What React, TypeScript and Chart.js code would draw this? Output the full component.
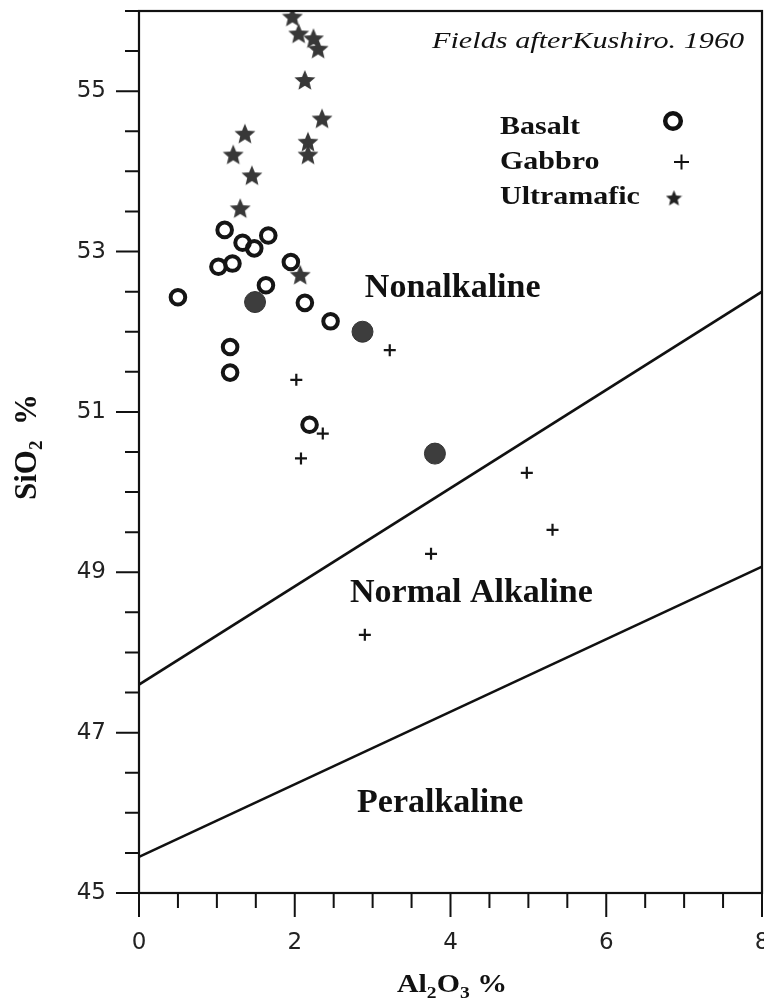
import React, { useEffect, useRef } from "react";
import { Chart, registerables } from "chart.js";

Chart.register(...registerables);

// ---------- data ----------
const basaltX = [0.5, 1.1, 1.02, 1.2, 1.33, 1.48, 1.66, 1.95, 1.63, 2.13, 2.46, 1.17, 1.17, 2.19];
const basaltY = [52.43, 53.27, 52.81, 52.85, 53.11, 53.04, 53.2, 52.87, 52.58, 52.36, 52.13, 51.81, 51.49, 50.84];

const basaltFilledX = [1.49, 2.87, 3.8];
const basaltFilledY = [52.37, 52.0, 50.48];

const gabbroX = [3.22, 2.02, 2.36, 2.08, 3.75, 4.98, 5.31, 2.9];
const gabbroY = [51.77, 51.4, 50.73, 50.42, 49.23, 50.24, 49.53, 48.22];

const ultramaficX = [1.97, 2.05, 2.24, 2.3, 2.13, 2.35, 2.17, 2.17, 1.36, 1.21, 1.45, 1.3, 2.07];
const ultramaficY = [55.93, 55.72, 55.66, 55.53, 55.14, 54.66, 54.37, 54.21, 54.47, 54.21, 53.95, 53.54, 52.71];

// field boundaries (Kushiro, 1960)
const upperBoundaryX = [0, 8];
const upperBoundaryY = [47.6, 52.5];
const lowerBoundaryX = [0, 8];
const lowerBoundaryY = [45.45, 49.07];

const regionNames = ["Nonalkaline", "Normal Alkaline", "Peralkaline"];
const legendNames = ["Basalt", "Gabbro", "Ultramafic"];
const sourceNote = "Fields afterKushiro. 1960";

const xMin = 0, xMax = 8, yMin = 45, yMax = 56;

const zip = (xs: number[], ys: number[]) => xs.map((x, i) => ({ x, y: ys[i] }));

function makeStar(size: number, color: string): HTMLCanvasElement {
  const c = document.createElement("canvas");
  c.width = size;
  c.height = size;
  const g = c.getContext("2d")!;
  const R = size / 2;
  const r = R * 0.45;
  g.beginPath();
  for (let i = 0; i < 10; i++) {
    const a = -Math.PI / 2 + (i * Math.PI) / 5;
    const rad = i % 2 === 0 ? R : r;
    g.lineTo(R + rad * Math.cos(a), R * 1.08 + rad * Math.sin(a));
  }
  g.closePath();
  g.fillStyle = color;
  g.fill();
  return c;
}

type Run = { t: string; sub?: boolean };

function drawRuns(
  ctx: CanvasRenderingContext2D,
  runs: Run[],
  base: string,
  sub: string,
  subDrop: number,
  x: number,
  y: number,
  sx: number
) {
  ctx.save();
  ctx.translate(x, y);
  ctx.scale(sx, 1);
  let w = 0;
  for (const r of runs) {
    ctx.font = r.sub ? sub : base;
    w += ctx.measureText(r.t).width;
  }
  let cx = -w / 2;
  ctx.textAlign = "left";
  ctx.textBaseline = "alphabetic";
  for (const r of runs) {
    ctx.font = r.sub ? sub : base;
    ctx.fillText(r.t, cx, r.sub ? subDrop : 0);
    cx += ctx.measureText(r.t).width;
  }
  ctx.restore();
}

const isXMajor = (v: number) => Math.abs(v % 2) < 1e-9;
const isYMajor = (v: number) => Math.abs((v - 45) % 2) < 1e-9;

export default function App() {
  const ref = useRef<HTMLCanvasElement | null>(null);

  useEffect(() => {
    document.body.style.margin = "0";
    const canvas = ref.current!;
    const plotStar = makeStar(22, "#383838");
    const legendStar = makeStar(17, "#222");

    const decor = {
      id: "decor",
      afterDraw(chart: any) {
        const ctx: CanvasRenderingContext2D = chart.ctx;
        const { left, right, top, bottom } = chart.chartArea;
        const xs = chart.scales.x;
        const ys = chart.scales.y;
        ctx.save();
        ctx.strokeStyle = "#111";
        ctx.fillStyle = "#111";
        // frame
        ctx.lineWidth = 2.2;
        ctx.strokeRect(left, top, right - left, bottom - top);
        // ticks
        ctx.lineWidth = 2;
        ctx.beginPath();
        for (const t of xs.ticks) {
          const px = xs.getPixelForValue(t.value);
          ctx.moveTo(px, bottom);
          ctx.lineTo(px, bottom + (isXMajor(t.value) ? 24 : 15));
        }
        for (const t of ys.ticks) {
          const py = ys.getPixelForValue(t.value);
          ctx.moveTo(left, py);
          ctx.lineTo(left - (isYMajor(t.value) ? 23 : 14), py);
        }
        ctx.stroke();

        // region labels
        ctx.font = 'bold 34px "Liberation Serif", serif';
        ctx.textAlign = "left";
        ctx.textBaseline = "alphabetic";
        const regionAnchors = [
          [2.9, 52.43],
          [2.71, 48.63],
          [2.8, 46.01],
        ];
        regionNames.forEach((n, i) => {
          ctx.fillText(n, xs.getPixelForValue(regionAnchors[i][0]), ys.getPixelForValue(regionAnchors[i][1]));
        });

        // source note
        ctx.save();
        ctx.translate(432, 48);
        ctx.scale(1.26, 1);
        ctx.font = 'italic 24px "Liberation Serif", serif';
        ctx.fillText(sourceNote, 0, 0);
        ctx.restore();

        // legend
        const legY = [134, 169, 204];
        legendNames.forEach((n, i) => {
          ctx.save();
          ctx.translate(500, legY[i]);
          ctx.scale(1.2, 1);
          ctx.font = 'bold 25px "Liberation Serif", serif';
          ctx.fillText(n, 0, 0);
          ctx.restore();
        });
        // legend markers
        ctx.lineWidth = 4.5;
        ctx.beginPath();
        ctx.arc(673, 121, 7.8, 0, Math.PI * 2);
        ctx.stroke();
        ctx.lineWidth = 2;
        ctx.beginPath();
        ctx.moveTo(674, 162);
        ctx.lineTo(689, 162);
        ctx.moveTo(681.5, 154.5);
        ctx.lineTo(681.5, 169.5);
        ctx.stroke();
        ctx.drawImage(legendStar, 674 - 8.5, 198 - 8.5);

        // axis titles
        drawRuns(
          ctx,
          [{ t: "Al" }, { t: "2", sub: true }, { t: "O" }, { t: "3", sub: true }, { t: " %" }],
          'bold 26px "Liberation Serif", serif',
          'bold 17px "Liberation Serif", serif',
          6,
          452,
          992,
          1.15
        );
        ctx.save();
        ctx.translate(36, 447);
        ctx.rotate(-Math.PI / 2);
        drawRuns(
          ctx,
          [{ t: "SiO" }, { t: "2", sub: true }, { t: "  %" }],
          'bold 31px "Liberation Serif", serif',
          'bold 19px "Liberation Serif", serif',
          6,
          0,
          0,
          1
        );
        ctx.restore();
        ctx.restore();
      },
    };

    const chart = new Chart(canvas, {
      type: "scatter",
      data: {
        datasets: [
          {
            label: legendNames[0],
            data: zip(basaltX, basaltY),
            pointStyle: "circle",
            pointRadius: 7.3,
            pointBorderWidth: 4,
            pointBorderColor: "#151515",
            pointBackgroundColor: "rgba(255,255,255,0)",
            order: 2,
          },
          {
            label: "Basalt (filled)",
            data: zip(basaltFilledX, basaltFilledY),
            pointStyle: "circle",
            pointRadius: 10.5,
            pointBorderWidth: 1,
            pointBorderColor: "#333",
            pointBackgroundColor: "#3d3d3d",
            order: 2,
          },
          {
            label: legendNames[1],
            data: zip(gabbroX, gabbroY),
            pointStyle: "cross",
            pointRadius: 6,
            pointBorderWidth: 2.2,
            pointBorderColor: "#151515",
            order: 3,
          },
          {
            label: legendNames[2],
            data: zip(ultramaficX, ultramaficY),
            pointStyle: plotStar as any,
            pointRadius: 11,
            order: 1,
          },
          {
            type: "line",
            label: "upper boundary",
            data: zip(upperBoundaryX, upperBoundaryY),
            borderColor: "#111",
            borderWidth: 2.6,
            pointRadius: 0,
            fill: false,
            order: 10,
          } as any,
          {
            type: "line",
            label: "lower boundary",
            data: zip(lowerBoundaryX, lowerBoundaryY),
            borderColor: "#111",
            borderWidth: 2.6,
            pointRadius: 0,
            fill: false,
            order: 10,
          } as any,
        ],
      },
      options: {
        responsive: false,
        animation: false,
        devicePixelRatio: 1,
        layout: { autoPadding: false, padding: { left: 0, right: 2, top: 11, bottom: 0 } },
        plugins: {
          legend: { display: false },
          tooltip: { enabled: false },
          title: { display: false },
        },
        scales: {
          x: {
            type: "linear",
            min: xMin,
            max: xMax,
            grid: { display: false, drawTicks: false },
            border: { display: false },
            ticks: {
              stepSize: 0.5,
              autoSkip: false,
              maxRotation: 0,
              padding: 36,
              color: "#222",
              font: { family: '"DejaVu Sans", sans-serif', size: 23 },
              callback: (v: any) => {
                const n = Number(v);
                return isXMajor(n) ? String(n) : "";
              },
            },
            afterFit: (s: any) => {
              s.height = 108;
              s.paddingLeft = 0;
              s.paddingRight = 0;
            },
          },
          y: {
            type: "linear",
            min: yMin,
            max: yMax,
            grid: { display: false, drawTicks: false },
            border: { display: false },
            ticks: {
              stepSize: 0.5,
              autoSkip: false,
              padding: 33,
              color: "#222",
              font: { family: '"DejaVu Sans", sans-serif', size: 23 },
              callback: (v: any) => {
                const n = Number(v);
                return Number.isInteger(n) && isYMajor(n) && n < yMax ? String(n) : "";
              },
            },
            afterFit: (s: any) => {
              s.width = 139;
              s.paddingTop = 0;
              s.paddingBottom = 0;
            },
          },
        },
      },
      plugins: [decor],
    } as any);

    return () => chart.destroy();
  }, []);

  return (
    <div style={{ width: 764, height: 1001, background: "#fff" }}>
      <canvas ref={ref} width={764} height={1001} style={{ display: "block" }} />
    </div>
  );
}
